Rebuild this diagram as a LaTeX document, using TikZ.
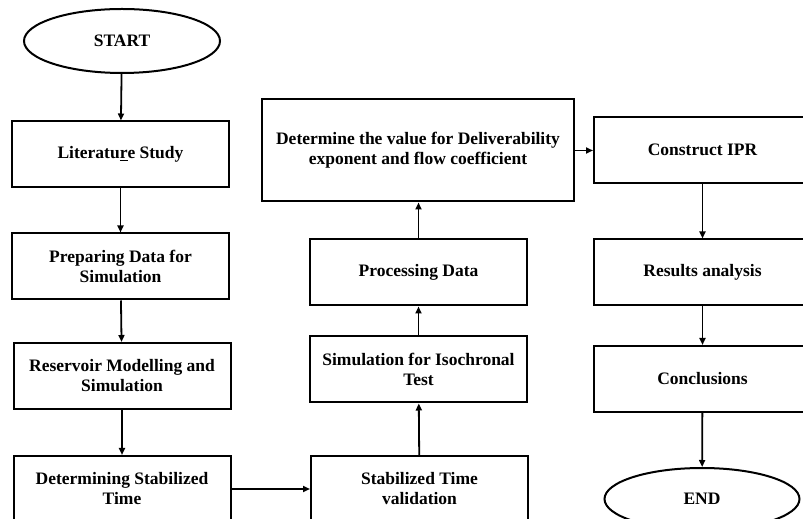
\documentclass[tikz,border=0pt]{standalone}
\usepackage{fontspec}
\setmainfont{Liberation Serif}
\usetikzlibrary{shapes.geometric, arrows.meta}

\begin{document}
\begin{tikzpicture}[x=1pt, y=1pt,
    every node/.style={font=\bfseries\fontsize{17.5}{20}\selectfont, align=center},
    stepbox/.style={draw, line width=2pt, minimum width=217pt, minimum height=66pt, inner sep=2pt},
    terminal/.style={draw, ellipse, line width=2pt, minimum width=196pt, minimum height=64pt, inner sep=0pt},
    flow/.style={-{Triangle[length=7pt, width=6pt]}, line width=1.8pt}]

    % Frame
    \useasboundingbox (0,0) rectangle (803,519);

    % Left column
    \node[terminal] (start) at (122,478) {START};
    \node[stepbox] (lit) at (120.5,364.5) {Literatu\underline{r}e Study};
    \node[stepbox] (prep) at (120.5,252.5) {Preparing Data for\\ Simulation};
    \node[stepbox] (res) at (122,143) {Reservoir Modelling and\\ Simulation};
    \node[stepbox] (detst) at (122,30) {Determining Stabilized\\ Time};

    % Middle column
    \node[stepbox] (stab) at (419.5,30) {Stabilized Time\\ validation};
    \node[stepbox] (sim) at (418.5,149.5) {Simulation for Isochronal\\ Test};
    \node[stepbox] (proc) at (418.5,246.5) {Processing Data};
    \node[stepbox, minimum width=312pt, minimum height=102pt] (det) at (418,368.5)
        {Determine the value for Deliverability\\ exponent and flow coefficient};

    % Right column
    \node[stepbox] (ipr) at (702.5,369) {Construct IPR};
    \node[stepbox] (resan) at (702.5,246.5) {Results analysis};
    \node[stepbox] (concl) at (702.5,140) {Conclusions};
    \node[terminal, minimum width=195pt, minimum height=62pt] (end) at (702,20) {END};

    % Arrows
    \draw[flow] (start) -- (lit);
    \draw[flow] (lit) -- (prep);
    \draw[flow] (prep) -- (res);
    \draw[flow] (res) -- (detst);
    \draw[flow] (detst) -- (stab);
    \draw[flow] (stab) -- (sim);
    \draw[flow] (sim) -- (proc);
    \draw[flow] (proc) -- (proc.north |- det.south);
    \draw[flow] (det.east) -- (ipr.west |- det.east);
    \draw[flow] (ipr) -- (resan);
    \draw[flow] (resan) -- (concl);
    \draw[flow] (concl) -- (end);

\end{tikzpicture}
\end{document}
